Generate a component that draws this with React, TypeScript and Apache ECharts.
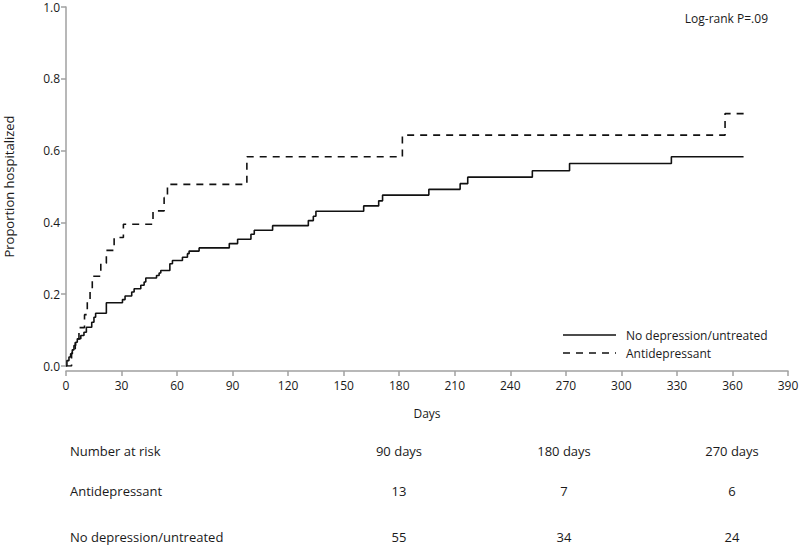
import React, { useEffect, useRef } from "react";
import * as echarts from "echarts";

// Kaplan-Meier style cumulative proportion hospitalized
const untreatedDays = [0, 0.5, 1.6, 2.5, 3.4, 4.3, 5.2, 6.1, 8, 9.7, 11, 13.9, 15.1, 16, 21.8, 30.5, 31.9, 35.5, 36.8, 40.4, 42.2, 43.1, 48.9, 50.3, 51.2, 56.1, 57.5, 62.9, 65.6, 66.5, 71.9, 88.2, 92.7, 99.9, 101.7, 111.6, 130.9, 133.6, 135, 160.8, 168.9, 171, 196, 212.9, 217, 251.9, 272, 327, 366];
const untreatedProp = [0, 0.015, 0.025, 0.034, 0.045, 0.057, 0.066, 0.076, 0.085, 0.094, 0.108, 0.122, 0.136, 0.147, 0.176, 0.185, 0.195, 0.206, 0.215, 0.225, 0.234, 0.245, 0.252, 0.259, 0.266, 0.285, 0.294, 0.303, 0.313, 0.32, 0.329, 0.341, 0.353, 0.367, 0.378, 0.391, 0.405, 0.417, 0.431, 0.446, 0.46, 0.476, 0.492, 0.508, 0.526, 0.544, 0.564, 0.583, 0.583];

const antidepDays = [0, 3, 5, 7, 10, 11.5, 13, 14.2, 18.8, 21.8, 26, 31, 47, 53, 54.8, 97.7, 181.7, 356, 366.7];
const antidepProp = [0, 0.036, 0.071, 0.107, 0.143, 0.179, 0.214, 0.25, 0.286, 0.322, 0.358, 0.395, 0.432, 0.469, 0.506, 0.583, 0.643, 0.703, 0.703];

const seriesNames = ["No depression/untreated", "Antidepressant"];
const riskHeader = "Number at risk";
const riskTimes = ["90 days", "180 days", "270 days"];
const riskAntidep = [13, 7, 6];
const riskUntreated = [55, 34, 24];
const pValueText = "Log-rank P=.09";

const FONT = "'Open Sans', 'Noto Sans', sans-serif";
const TXT = "#1a1a1a";
const AXIS = "#a0a0a0";
const DASH = [7, 6];

export default function App() {
  const ref = useRef<HTMLDivElement>(null);
  useEffect(() => {
    if (!ref.current) return;
    const chart = echarts.init(ref.current, null, { renderer: "svg" });
    const colX = [399, 564, 732];
    const rowY = [451, 491, 537];
    const g: any[] = [];
    const txt = (s: string, x: number, y: number, align: string, size = 13) => ({
      type: "text",
      x,
      y,
      style: { text: s, fill: TXT, font: `${size}px ${FONT}`, textAlign: align, textVerticalAlign: "middle" },
    });
    g.push(txt(riskHeader, 70, rowY[0], "left"));
    g.push(txt(seriesNames[1], 70, rowY[1], "left"));
    g.push(txt(seriesNames[0], 70, rowY[2], "left"));
    riskTimes.forEach((t, i) => g.push(txt(t, colX[i], rowY[0], "center")));
    riskAntidep.forEach((v, i) => g.push(txt(String(v), colX[i], rowY[1], "center")));
    riskUntreated.forEach((v, i) => g.push(txt(String(v), colX[i], rowY[2], "center")));
    g.push(txt(pValueText, 768, 18, "right", 12));
    // legend
    g.push({ type: "line", shape: { x1: 563, y1: 335, x2: 616, y2: 335 }, style: { stroke: "#111", lineWidth: 1.6 } });
    g.push({ type: "line", shape: { x1: 563, y1: 353, x2: 616, y2: 353 }, style: { stroke: "#111", lineWidth: 1.6, lineDash: DASH } });
    g.push(txt(seriesNames[0], 626, 335, "left", 12));
    g.push(txt(seriesNames[1], 626, 353, "left", 12));

    chart.setOption({
      animation: false,
      backgroundColor: "#ffffff",
      grid: { left: 66, right: 12, top: 7, bottom: 180, containLabel: false, outerBoundsMode: "none" },
      xAxis: {
        type: "value",
        min: 0,
        max: 390,
        interval: 30,
        offset: 5,
        name: "Days",
        nameLocation: "middle",
        nameGap: 36,
        nameTextStyle: { color: TXT, fontFamily: FONT, fontSize: 12 },
        axisLine: { show: true, onZero: false, lineStyle: { color: AXIS, width: 1.5 } },
        axisTick: { show: true, length: 5, lineStyle: { color: AXIS, width: 1.5 } },
        axisLabel: { color: TXT, fontFamily: FONT, fontSize: 12, margin: 8 },
        splitLine: { show: false },
      },
      yAxis: {
        type: "value",
        min: 0,
        max: 1,
        interval: 0.2,
        name: "Proportion hospitalized",
        nameLocation: "middle",
        nameGap: 51,
        nameRotate: 90,
        nameTextStyle: { color: TXT, fontFamily: FONT, fontSize: 13 },
        axisLine: { show: true, lineStyle: { color: AXIS, width: 1.5 } },
        axisTick: { show: true, length: 5, lineStyle: { color: AXIS, width: 1.5 } },
        axisLabel: { color: TXT, fontFamily: FONT, fontSize: 12, margin: 6, formatter: (v: number) => v.toFixed(1) },
        splitLine: { show: false },
      },
      series: [
        {
          name: seriesNames[0],
          type: "line",
          step: "end",
          symbol: "none",
          data: untreatedDays.map((d, i) => [d, untreatedProp[i]]),
          lineStyle: { color: "#111", width: 1.6, type: "solid" },
          itemStyle: { color: "#111" },
        },
        {
          name: seriesNames[1],
          type: "line",
          step: "end",
          symbol: "none",
          data: antidepDays.map((d, i) => [d, antidepProp[i]]),
          lineStyle: { color: "#111", width: 1.6, type: DASH },
          itemStyle: { color: "#111" },
        },
      ],
      graphic: g,
    });
    return () => chart.dispose();
  }, []);
  return <div ref={ref} style={{ position: "fixed", left: 0, top: 0, width: 800, height: 546 }} />;
}
